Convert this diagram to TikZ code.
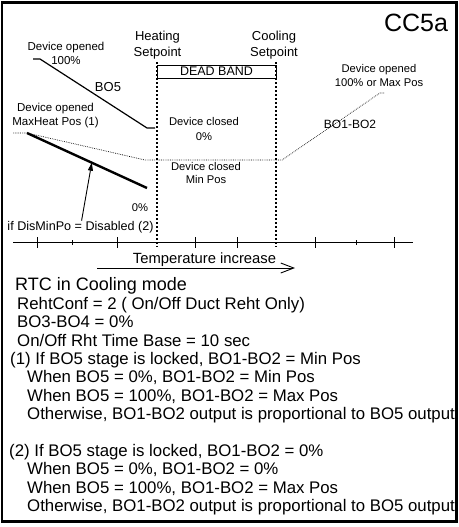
\documentclass[tikz,border=0pt]{standalone}
\usepackage{fontspec}
\setmainfont{Liberation Sans}
\usepackage{tikz}
\usetikzlibrary{arrows.meta,calc}
\newcommand{\fs}[2]{\fontsize{#1}{#2}\selectfont}

\begin{document}
\begin{tikzpicture}[
  x=1pt,y=-1pt,
  lbl/.style={font=\fs{11.5}{14},align=center,inner sep=0pt},
  mid/.style={font=\fs{13}{15.5},align=center,inner sep=0pt},
  txt/.style={font=\fs{16.8}{18.5},anchor=base west,inner sep=0pt},
  setline/.style={line width=1.6pt,dash pattern=on 1.6pt off 2.4pt},
  fineline/.style={line width=0.7pt,dash pattern=on 0.7pt off 1.1pt},
  curve/.style={line width=1.2pt},
  heavy/.style={line width=2.4pt},
  ar/.style={-{Triangle[length=8pt,width=5pt]},line width=0.9pt},
  tar/.style={-{Straight Barb[length=13pt,width=10pt]},line width=0.9pt},
]
\useasboundingbox (0,0) rectangle (458,527);
\draw[line width=2.2pt] (2,2.5) rectangle (456.5,521.5);

\node[anchor=base,inner sep=0pt,font=\fs{25}{28}] (title) at (416,32) {CC5a};
\node[mid] (heat) at (157.5,45) {Heating\\Setpoint};
\node[mid] (cool) at (274,45) {Cooling\\Setpoint};
\node[draw,line width=0.8pt,minimum width=119pt,minimum height=13pt,inner sep=0pt,
      font=\fs{12.5}{14}] (dead) at (216.5,71.5) {DEAD BAND};

\node[lbl] (open100) at (66,53) {Device opened\\100\%};
\node[anchor=base,inner sep=0pt,font=\fs{13}{15}] (bofive) at (108,91) {BO5};
\node[lbl] (openmh) at (55.5,116) {Device opened\\MaxHeat Pos (1)};
\node[lbl,font=\fs{11.2}{15}] (closed0) at (204,128.5) {Device closed\\0\%};
\node[lbl,font=\fs{11.2}{13}] (closedmin) at (206,172.5) {Device closed\\Min Pos};
\node[lbl,font=\fs{11.2}{14}] (openmax) at (379,75) {Device opened\\100\% or Max Pos};
\node[anchor=base,inner sep=0pt,font=\fs{12}{14}] (boonetwo) at (350,128) {BO1-BO2};
\node[anchor=base,inner sep=0pt,font=\fs{11.2}{13}] (zero) at (140,211) {0\%};
\node[anchor=base,inner sep=0pt,font=\fs{12.6}{14}] (dis) at (80.5,230) {if DisMinPo = Disabled (2)};
\node[anchor=base,inner sep=0pt,font=\fs{14.8}{16}] (tinc) at (204.5,263.5) {Temperature increase};

\draw[setline] (157,62) -- (157,247);
\draw[setline] (276,62) -- (276,247);

\draw[curve] (33,59) -- (40,59) -- (147,128) -- (155,128);
\draw[fineline] (13,133) -- (27,133) -- (145,160) -- (282,160) -- (380,93) -- (385,93);
\draw[heavy] (27,133) -- coordinate[pos=0.54] (hit) (147,188);
\draw[ar] (dis) -- (hit);

\draw[line width=1pt] (13,242) -- (413,242);
\foreach \x in {37,117,195,237,315,394}
  \draw[line width=1pt] (\x,237) -- (\x,248);
\foreach \x in {72,356}
  \draw[line width=1pt] (\x,240) -- (\x,245);

\coordinate (tstart) at (97,268);
\coordinate (tend) at (295,268);
\draw[tar] (tstart) -- (tend);

\node[txt,font=\fs{18}{20}] (rtc) at (15,290) {RTC in Cooling mode};
\node[txt] (reht) at (17,309) {RehtConf = 2 ( On/Off Duct Reht Only)};
\node[txt] (bothree) at (17,327) {BO3-BO4 = 0\%};
\node[txt] (tbase) at (17,346) {On/Off Rht Time Base = 10 sec};
\node[txt] (noteA) at (10,364) {(1) If BO5 stage is locked, BO1-BO2 = Min Pos};
\node[txt] (noteAa) at (27,382) {When BO5 = 0\%, BO1-BO2 = Min Pos};
\node[txt] (noteAb) at (27,401) {When BO5 = 100\%, BO1-BO2 = Max Pos};
\node[txt] (noteAc) at (27,419) {Otherwise, BO1-BO2 output is proportional to BO5 output};
\node[txt] (noteB) at (9,456) {(2) If BO5 stage is locked, BO1-BO2 = 0\%};
\node[txt] (noteBa) at (27,474) {When BO5 = 0\%, BO1-BO2 = 0\%};
\node[txt] (noteBb) at (27,493) {When BO5 = 100\%, BO1-BO2 = Max Pos};
\node[txt] (noteBc) at (27,511) {Otherwise, BO1-BO2 output is proportional to BO5 output};
\end{tikzpicture}
\end{document}
